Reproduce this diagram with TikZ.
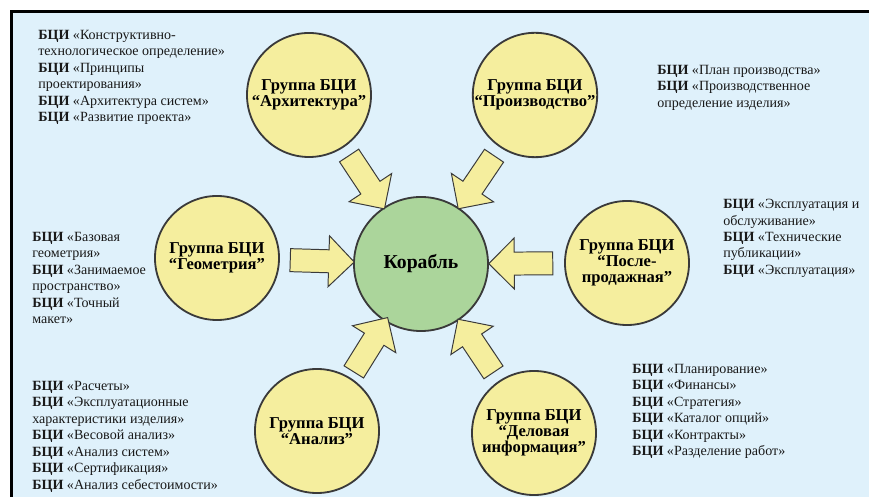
\documentclass[tikz,border=0pt]{standalone}
\usepackage{fontspec}
\setmainfont{Liberation Serif}
\usetikzlibrary{shapes,arrows,positioning}
\definecolor{bgblue}{RGB}{223,241,251}
\definecolor{groupyellow}{RGB}{245,238,158}
\definecolor{shipgreen}{RGB}{171,213,155}
\definecolor{edgegray}{RGB}{58,58,58}
\newcommand\bci{\textbf{БЦИ}}
\tikzset{
  group/.style = {draw=edgegray, line width=1.3pt, circle, fill=groupyellow, minimum size=3.1cm, inner sep=0pt, align=center, font=\fontsize{11.8}{11.5}\selectfont\bfseries},
  ship/.style  = {draw=edgegray, line width=1.3pt, circle, fill=shipgreen, minimum size=3.35cm, inner sep=0pt, font=\fontsize{14}{14}\selectfont\bfseries},
  flow/.style  = {draw=edgegray, line width=0.7pt, fill=groupyellow, single arrow, single arrow head extend=0.35cm, inner sep=0pt, inner ysep=0.275cm, minimum height=1.6cm, sloped, allow upside down},
  list/.style  = {anchor=north west, inner sep=0pt, align=left, text=black!90, font=\fontsize{10}{11.7}\selectfont}
}

\begin{document}
\begin{tikzpicture}[x=0.025cm, y=-0.025cm]

\useasboundingbox (0,0) rectangle (869,497);
\fill[bgblue] (11.5,11.5) rectangle (869,497);
\draw[line width=2.1pt] (11.5,497) -- (11.5,11.5) -- (869,11.5);

% Central node
\node [ship] (ship) at (421,264) {Корабль};

% Groups
\node [group] (arch) at (309,95)  {Группа БЦИ\\“Архитектура”};
\node [group] (prod) at (535,95)  {Группа БЦИ\\“Производство”};
\node [group] (geom) at (217,258) {Группа БЦИ\\“Геометрия”};
\node [group] (post) at (627,263) {Группа БЦИ\\“После-\\продажная”};
\node [group] (anal) at (317,431) {Группа БЦИ\\“Анализ”};
\node [group] (busi) at (534,433) {Группа БЦИ\\“Деловая\\информация”};

% Lists
\node [list] (archlist) at (38,30) {\bci{} «Конструктивно-\\технологическое определение»\\\bci{} «Принципы\\проектирования»\\\bci{} «Архитектура систем»\\\bci{} «Развитие проекта»};
\node [list] (prodlist) at (657,65) {\bci{} «План производства»\\\bci{} «Производственное\\определение изделия»};
\node [list] (geomlist) at (32,232) {\bci{} «Базовая\\геометрия»\\\bci{} «Занимаемое\\пространство»\\\bci{} «Точный\\макет»};
\node [list] (postlist) at (723,199) {\bci{} «Эксплуатация и\\обслуживание»\\\bci{} «Технические\\публикации»\\\bci{} «Эксплуатация»};
\node [list] (anallist) at (32,381) {\bci{} «Расчеты»\\\bci{} «Эксплуатационные\\характеристики изделия»\\\bci{} «Весовой анализ»\\\bci{} «Анализ систем»\\\bci{} «Сертификация»\\\bci{} «Анализ себестоимости»};
\node [list] (busilist) at (632,364) {\bci{} «Планирование»\\\bci{} «Финансы»\\\bci{} «Стратегия»\\\bci{} «Каталог опций»\\\bci{} «Контракты»\\\bci{} «Разделение работ»};

% Connections
\path (arch) -- node [flow] {} (ship);
\path (prod) -- node [flow] {} (ship);
\path (geom) -- node [flow] {} (ship);
\path (post) -- node [flow] {} (ship);
\path (anal) -- node [flow] {} (ship);
\path (busi) -- node [flow] {} (ship);

\end{tikzpicture}
\end{document}
